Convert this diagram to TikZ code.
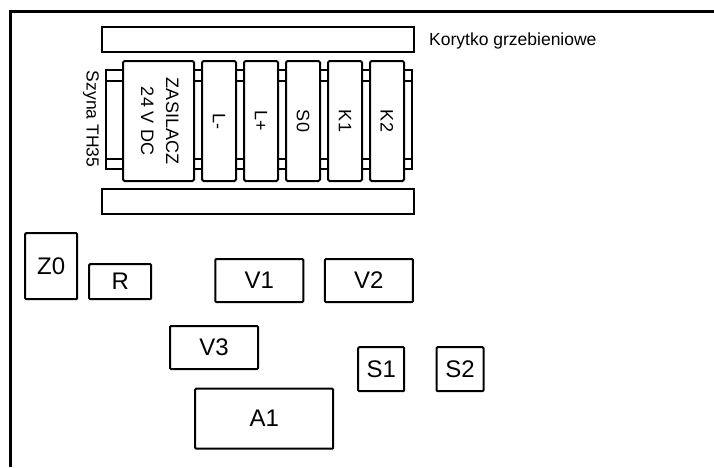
\documentclass[tikz,border=0pt]{standalone}
\usepackage{fontspec}
\setmainfont{Liberation Sans}
\usetikzlibrary{positioning}
\tikzstyle{device} = [draw, line width=2pt, rounded corners=1pt, fill=white, inner sep=0pt, font=\fontsize{24}{28}\selectfont]
\tikzstyle{terminal} = [draw, line width=2pt, rounded corners=1.5pt, fill=white, minimum width=34pt, minimum height=120pt, inner sep=0pt, font=\fontsize{18}{21}\selectfont]
\tikzstyle{trough} = [draw, line width=2.2pt, minimum width=312pt, minimum height=25pt]
\tikzstyle{rail} = [line width=1.8pt]

\begin{document}
\begin{tikzpicture}[x=1pt, y=-1pt]
    \useasboundingbox (0,0) rectangle (714,467);
    % rama szafki
    \draw[line width=3pt] (10,467) -- (10,11) -- (714,11);
    % korytka grzebieniowe
    \node[trough] (kortop) at (258,39.5) {};
    \node[trough] (korbot) at (258,201.5) {};
    \node[anchor=base west, inner sep=0pt, font=\fontsize{17.5}{20}\selectfont] (korlabel) at (429,45.5) {Korytko grzebieniowe};
    % szyna TH35
    \draw[rail] (106,70) rectangle (412,169);
    \draw[rail] (106,81) -- (412,81) (106,159) -- (412,159);
    \node[inner sep=0pt, font=\fontsize{17.5}{20}\selectfont] (szyna) at (91,119) {\rotatebox{-90}{Szyna TH35}};
    % aparatura na szynie
    \node[terminal, minimum width=71pt, font=\fontsize{18}{25}\selectfont] (zas) at (158.5,121) {\rotatebox{-90}{\begin{tabular}{@{}c@{}}ZASILACZ\\24 V DC\end{tabular}}};
    \node[terminal, right=6pt of zas] (lminus) {\rotatebox{-90}{L-}};
    \node[terminal, right=6pt of lminus] (lplus) {\rotatebox{-90}{L+}};
    \node[terminal, right=6pt of lplus] (s0) {\rotatebox{-90}{S0}};
    \node[terminal, right=6pt of s0] (k1) {\rotatebox{-90}{K1}};
    \node[terminal, right=6pt of k1] (k2) {\rotatebox{-90}{K2}};
    % elementy na plycie
    \node[device, minimum width=52pt, minimum height=66pt] (z0) at (51.2,266.2) {Z0};
    \node[device, minimum width=62pt, minimum height=35pt] (r) at (120.2,281.7) {R};
    \node[device, minimum width=88pt, minimum height=43pt] (v1) at (259.3,280.5) {V1};
    \node[device, minimum width=88pt, minimum height=43pt] (v2) at (368.9,280.5) {V2};
    \node[device, minimum width=88pt, minimum height=43pt] (v3) at (214,347.5) {V3};
    \node[device, minimum width=46pt, minimum height=44pt] (s1) at (381.2,369.2) {S1};
    \node[device, minimum width=47pt, minimum height=44pt] (s2) at (460,369.2) {S2};
    \node[device, minimum width=138pt, minimum height=60pt] (a1) at (264.2,418.7) {A1};
\end{tikzpicture}
\end{document}
